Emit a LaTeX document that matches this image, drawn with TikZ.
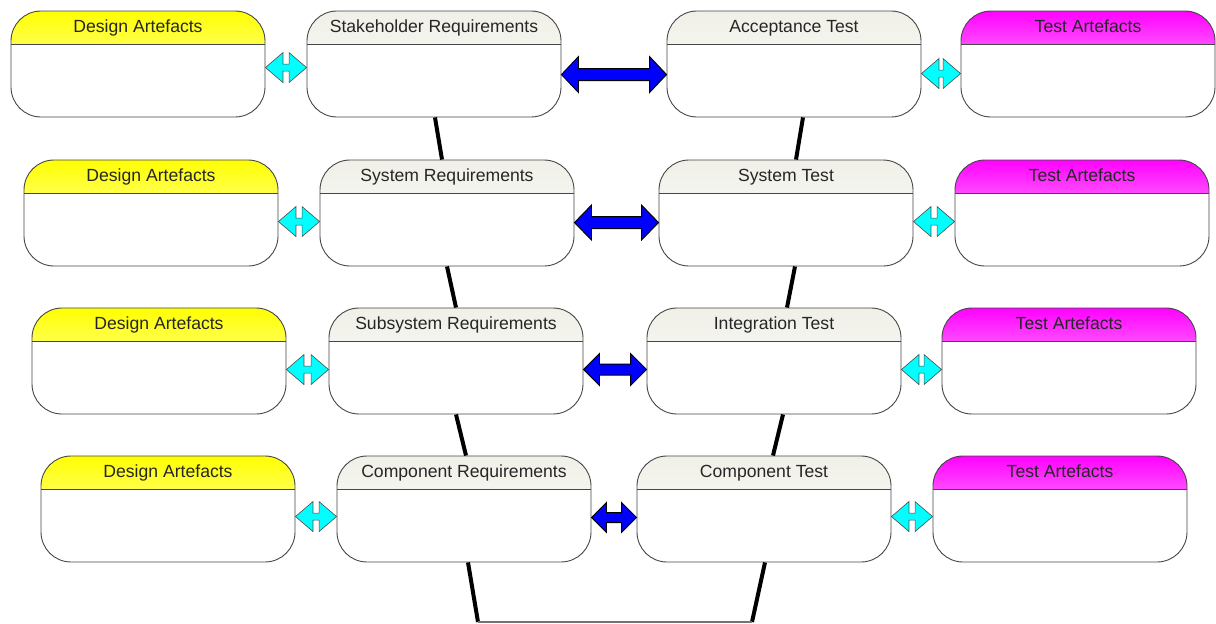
\documentclass[tikz,border=0pt]{standalone}
\usepackage{fontspec}
\setmainfont{Liberation Sans}
\usetikzlibrary{calc}
\definecolor{hdrmid}{RGB}{240,240,232}
\definecolor{outl}{RGB}{70,70,70}
\definecolor{hyel}{RGB}{255,255,0}
\definecolor{hmag}{RGB}{255,0,255}
\definecolor{acyan}{RGB}{0,255,255}
\definecolor{ablue}{RGB}{0,0,255}
\tikzset{
  box/.style={draw=outl, line width=0.9pt, rounded corners=30pt,
    minimum width=254pt, minimum height=106pt, inner sep=0pt, fill=white,
    path picture={
      \shade[sharp corners, top color=#1, bottom color=#1!10!white]
        ([yshift=1pt]path picture bounding box.north west) rectangle
        ([yshift=-33pt]path picture bounding box.north east);
      \draw[sharp corners, outl, line width=0.9pt]
        ([yshift=-33pt]path picture bounding box.north west) --
        ([yshift=-33pt]path picture bounding box.north east);
    }},
  hdrtext/.style={font=\fontsize{17.6}{20}\selectfont, text=black!85, inner sep=0pt, anchor=base},
  link/.style={line width=4pt, black},
  baseline/.style={line width=1.6pt, black!55},
  cyanarr/.style={fill=acyan, draw=black!70, line width=0.6pt},
  bluearr/.style={fill=ablue, draw=black, line width=0.9pt},
}
\newcommand\mkbox[5]{%
  \node[box=#4] (#1) at (#2+127,#3+53) {};
  \node[hdrtext] (#1-t) at ([yshift=-22pt]#1.north) {#5};}
\newcommand\dblarr[7]{%
  \coordinate (tl) at ($(#2.north east)+(0,#4)$);
  \coordinate (tr) at ($(#3.north west)+(0,#4)$);
  \draw[#1] (tl) -- ($(tl)+(#5,-#6)$) -- ($(tl)+(#5,-#7)$) -- ($(tr)+(-#5,-#7)$)
    -- ($(tr)+(-#5,-#6)$) -- (tr) -- ($(tr)+(-#5,#6)$) -- ($(tr)+(-#5,#7)$)
    -- ($(tl)+(#5,#7)$) -- ($(tl)+(#5,#6)$) -- cycle;}
\begin{document}
\begin{tikzpicture}[x=1pt,y=-1pt]
\useasboundingbox (0,0) rectangle (1216,624);
% row 1
\mkbox{DA1}{11}{11}{hyel}{Design Artefacts}
\mkbox{SR}{307}{11}{hdrmid}{Stakeholder Requirements}
\mkbox{AT}{667}{11}{hdrmid}{Acceptance Test}
\mkbox{TA1}{961}{11}{hmag}{Test Artefacts}
% row 2
\mkbox{DA2}{24}{160}{hyel}{Design Artefacts}
\mkbox{SysR}{320}{160}{hdrmid}{System Requirements}
\mkbox{ST}{659}{160}{hdrmid}{System Test}
\mkbox{TA2}{955}{160}{hmag}{Test Artefacts}
% row 3
\mkbox{DA3}{32}{308}{hyel}{Design Artefacts}
\mkbox{SubR}{329}{308}{hdrmid}{Subsystem Requirements}
\mkbox{IT}{647}{308}{hdrmid}{Integration Test}
\mkbox{TA3}{942}{308}{hmag}{Test Artefacts}
% row 4
\mkbox{DA4}{41}{456}{hyel}{Design Artefacts}
\mkbox{CR}{337}{456}{hdrmid}{Component Requirements}
\mkbox{CT}{637}{456}{hdrmid}{Component Test}
\mkbox{TA4}{933}{456}{hmag}{Test Artefacts}
% V links
\draw[link] ([xshift=1pt]SR.south) -- ([xshift=-5pt]SysR.north);
\draw[link] ([xshift=9pt]AT.south) -- ([xshift=10pt]ST.north);
\draw[link] (SysR.south) -- (SubR.north);
\draw[link] ([xshift=9pt]ST.south) -- ([xshift=13pt]IT.north);
\draw[link] (SubR.south) -- ([xshift=2pt]CR.north);
\draw[link] ([xshift=9pt]IT.south) -- ([xshift=9pt]CT.north);
\coordinate (b1) at (478,622);
\coordinate (b2) at (752,622);
\draw[link] ([xshift=4pt]CR.south) -- (b1);
\draw[link] ([xshift=1pt]CT.south) -- (b2);
\draw[baseline] (b1) -- (b2);
% arrows row 1
\dblarr{cyanarr}{DA1}{SR}{57}{17.5}{15}{3.5}
\dblarr{bluearr}{SR}{AT}{64}{17}{18}{6}
\dblarr{cyanarr}{AT}{TA1}{63}{17.5}{15}{3.5}
% row 2
\dblarr{cyanarr}{DA2}{SysR}{62}{17.5}{15}{3.5}
\dblarr{bluearr}{SysR}{ST}{63}{17}{17.5}{6}
\dblarr{cyanarr}{ST}{TA2}{62}{17.5}{15}{3.5}
% row 3
\dblarr{cyanarr}{DA3}{SubR}{62}{17.5}{15}{3.5}
\dblarr{bluearr}{SubR}{IT}{62}{16}{16}{5.5}
\dblarr{cyanarr}{IT}{TA3}{62}{17.5}{15}{3.5}
% row 4
\dblarr{cyanarr}{DA4}{CR}{61}{17.5}{15}{3.5}
\dblarr{bluearr}{CR}{CT}{62}{15}{15}{5}
\dblarr{cyanarr}{CT}{TA4}{61}{17.5}{15}{3.5}
\end{tikzpicture}
\end{document}
